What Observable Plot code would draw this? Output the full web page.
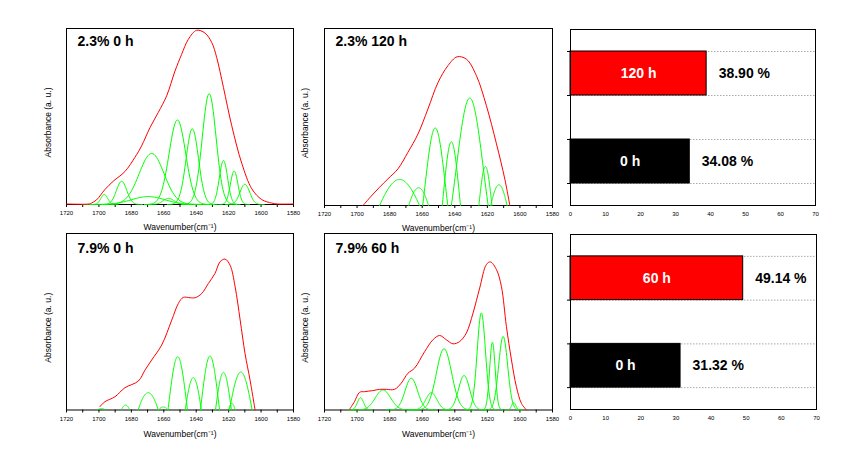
<!DOCTYPE html>
<html>
<head>
<meta charset="utf-8">
<script src="https://cdn.jsdelivr.net/npm/d3@7"></script>
<script src="https://cdn.jsdelivr.net/npm/@observablehq/plot@0.6"></script>
<style>
  html, body { margin: 0; padding: 0; background: #fff; }
  #wrap { position: relative; width: 866px; height: 454px; background: #fff; overflow: hidden;
          font-family: "Liberation Sans", Arial, sans-serif; }
  #wrap > svg { position: absolute; }
</style>
</head>
<body>
<div id="wrap"></div>
<script>
// ---------------- DATA ----------------
const xTickValues = [1720,1710,1700,1690,1680,1670,1660,1650,1640,1630,1620,1610,1600,1590,1580];
const barTickValues = [0,10,20,30,40,50,60,70];

const titles = ["2.3% 0 h", "2.3% 120 h", "7.9% 0 h", "7.9% 60 h"];

// red envelopes: [wavenumber, absorbance (% of panel height)]
const env23h0 = [[1720,0.3],[1706,0.3],[1704.6,0.8],[1701.5,2.6],[1696.3,8.5],[1691.2,13.2],[1684,18.7],[1677.8,26.8],
  [1673.7,33.3],[1668.5,43.7],[1663.4,52.3],[1658.2,61.8],[1653.1,75.8],[1649,85.3],[1644.9,93.8],[1639.7,99],
  [1634.6,97.4],[1630.4,92],[1627.4,83.6],[1623.2,66.5],[1618.1,44.8],[1611.9,23.4],[1605.7,8.9],[1599.6,2.8],
  [1593.4,0.8],[1590,0.3],[1580,0.3]];
const env23h120 = [[1696.4,0],[1691.3,5.3],[1686.2,10.3],[1681.1,15],[1674.9,20.7],[1668.8,30],[1662.6,40.4],
  [1656.5,54.5],[1650.3,69.5],[1644.2,79],[1638.6,84],[1632.9,82.7],[1626.7,73.3],[1620.6,56.4],[1614.4,34.8],
  [1609.3,15],[1606.2,0]];
const env79h0 = [[1699.4,1.9],[1696.3,4.7],[1690.1,7.5],[1684,12.6],[1675.7,16.4],[1671.6,22.6],[1667.5,28.3],
  [1661.3,36.8],[1655.1,50.9],[1651,60.4],[1648,63.8],[1643.8,63.6],[1640.7,63.6],[1636.6,66],[1632.5,71.7],
  [1628.4,77.4],[1625.3,84],[1622.2,85.5],[1619.1,82],[1616,69.8],[1612.9,51],[1609.9,32],[1606.8,17],[1603.7,0]];
const env79h60 = [[1704.6,0.4],[1701.6,4.7],[1698.5,10],[1695.4,10.4],[1690.3,11],[1686.2,11.7],[1682.1,11.7],
  [1677,11.7],[1672.9,15.2],[1668.8,20.8],[1664.7,23.7],[1658.5,33.1],[1653.4,39.8],[1649.3,42.2],[1645.2,39.8],
  [1641.1,37.5],[1637,38.8],[1632.9,43.6],[1628.8,54.9],[1624.7,69.1],[1620.6,82.4],[1618.1,83.9],[1614.4,79.5],
  [1611.4,70.1],[1608.3,47.3],[1605.2,28.4],[1602.2,13.3],[1599.1,3.8],[1596,0]];

// green fitted bands: [centre, visible height, width]
// full bands: width = FWHM ; clipped bands: width = half-width where the band meets the axis
const bands23h0 = [[1696.7,5.7,5],[1686,13.2,7.5],[1667.5,29,18],[1669.6,4.5,24],[1657,3.5,8],[1651.6,48,12],
  [1642.4,43,9],[1632,63,10],[1623.2,25,6],[1616.6,19,5.5],[1610,11.5,7]];
const bands23h120 = [[1673.9,14.7,12.3],[1662.2,10,6.1],[1652,43.8,7.7],[1642.1,36,5.6],[1630.8,60.7,11.3],
  [1621.2,22,4],[1612.9,11.7,5]];
const bands79h0 = [[1698.4,0.8,2.5],[1683.6,2.8,2.6],[1669.6,9.8,6.2],[1660.3,1.7,3],[1651.4,30.2,6],
  [1641.8,18.3,5],[1631.5,30.6,5.9],[1623.2,21.3,4.9],[1618,3.8,2],[1612.5,21.5,7]];
const bands79h60 = [[1697.9,7,4.5],[1684.1,11.4,11],[1666.7,18,9],[1654.4,9.8,8],[1646.6,34.7,11],
  [1634.3,19.5,8],[1623.7,55,6],[1616.9,38.4,4],[1610.3,41.7,6.5],[1603.8,4.2,3]];

// bar panels
const bars23Labels = ["0 h", "120 h"];
const bars23Values = [34.08, 38.90];
const bars79Labels = ["0 h", "60 h"];
const bars79Values = [31.32, 49.14];
const barColors = ["#000000", "#ff0000"];

// ---------------- DRAWING ----------------
const wrap = document.getElementById("wrap");
const FONT = "'Liberation Sans', Arial, sans-serif";

function bandPoints(band, base, k) {
  const [c, h, w] = band;
  const pts = [];
  if (base < 0) {
    const A = h - base;
    const s = w / Math.sqrt(2 * Math.log(A / (-base)));
    const n = 60;
    for (let j = 0; j <= n; j++) {
      const x = c - w + (2 * w * j) / n;
      const y = Math.max(0, A * Math.exp(-((x - c) ** 2) / (2 * s * s)) + base);
      pts.push({x, y, k});
    }
  } else {
    const s = w / 2.3548;
    const n = 80;
    for (let j = 0; j <= n; j++) {
      const x = c - 4 * s + (8 * s * j) / n;
      if (x > 1720 || x < 1580) continue;
      pts.push({x, y: h * Math.exp(-((x - c) ** 2) / (2 * s * s)), k});
    }
  }
  return pts;
}

function place(svg, g, ml, mt) {
  svg.style.left = (g.x - ml) + "px";
  svg.style.top = (g.y - mt) + "px";
  wrap.appendChild(svg);
}

function spectrum(g, title, env, bands, base) {
  const ml = 30, mr = 10, mt = 10, mb = 32;
  const curves = bands.flatMap((b, k) => bandPoints(b, base, k));
  const svg = Plot.plot({
    width: ml + g.w + mr, height: mt + g.h + mb,
    marginLeft: ml, marginRight: mr, marginTop: mt, marginBottom: mb,
    style: {background: "transparent", overflow: "visible", fontFamily: FONT, fontSize: "6px", color: "#000"},
    x: {domain: [1720, 1580], ticks: xTickValues, tickFormat: d => d % 20 === 0 ? String(d) : "",
        tickSize: 3, tickPadding: 3.5, label: null},
    y: {domain: [0, 100], axis: null},
    marks: [
      Plot.frame({stroke: "#000", strokeWidth: 1}),
      Plot.line(curves, {x: "x", y: "y", z: "k", stroke: "#00ff00", strokeWidth: 1}),
      Plot.line(env, {x: d => d[0], y: d => d[1], stroke: "#ff0000", strokeWidth: 1, curve: "catmull-rom"}),
      Plot.text([title], {frameAnchor: "top-left", dx: 11, dy: g.titleDy, textAnchor: "start", lineAnchor: "top",
        fontSize: 14, fontWeight: "bold", fill: "#000"}),
      Plot.text(["Wavenumber(cm⁻¹)"], {frameAnchor: "bottom", dy: g.labelDy, lineAnchor: "middle",
        textAnchor: "middle", fontSize: 8.5, fill: "#000"}),
      Plot.text(["Absorbance (a. u.)"], {frameAnchor: "left", dx: g.absDx, dy: 6, rotate: -90,
        textAnchor: "middle", lineAnchor: "middle", fontSize: 8.5, fill: "#000"})
    ]
  });
  place(svg, g, ml, mt);
}

function barPanel(g, labels, values) {
  const ml = 20, mr = 10, mt = 10, mb = 25;
  const rows = labels.map((l, i) => ({label: l, value: values[i], color: barColors[i], i}));
  const edges = rows.flatMap(d => [2 * d.i + 0.5, 2 * d.i + 1.5]);
  const svg = Plot.plot({
    width: ml + g.w + mr, height: mt + g.h + mb,
    marginLeft: ml, marginRight: mr, marginTop: mt, marginBottom: mb,
    style: {background: "transparent", overflow: "visible", fontFamily: FONT, fontSize: "6px", color: "#000"},
    x: {domain: [0, 70], ticks: barTickValues, tickSize: 0, tickPadding: 6, label: null},
    y: {domain: [0, 4], ticks: edges, tickSize: 3, tickFormat: () => "", label: null},
    marks: [
      Plot.ruleY(edges, {x1: 0, x2: 70, stroke: "#aaaaaa", strokeDasharray: "1.5,1.5", strokeWidth: 1}),
      Plot.rectX(rows, {x1: 0, x2: "value", y1: d => 2 * d.i + 0.5, y2: d => 2 * d.i + 1.5,
        fill: d => d.color, stroke: "#000", strokeWidth: 1}),
      Plot.text(rows, {x: d => d.value / 2, y: d => 2 * d.i + 1, text: "label", fill: "#fff",
        fontSize: 14, fontWeight: "bold"}),
      Plot.text(rows, {x: "value", y: d => 2 * d.i + 1, text: d => d.value.toFixed(2) + " %", dx: 12,
        textAnchor: "start", fill: "#000", fontSize: 14, fontWeight: "bold"}),
      Plot.frame({stroke: "#000", strokeWidth: 1})
    ]
  });
  place(svg, g, ml, mt);
}

spectrum({x: 65.5, y: 28, w: 227, h: 176, titleDy: 8, labelDy: 23, absDx: -18}, titles[0], env23h0, bands23h0, 0);
spectrum({x: 323.5, y: 28, w: 228, h: 177, titleDy: 8, labelDy: 23, absDx: -19}, titles[1], env23h120, bands23h120, -40);
barPanel({x: 569.5, y: 29, w: 245, h: 176}, bars23Labels, bars23Values);
spectrum({x: 65.5, y: 232.5, w: 227, h: 176.5, titleDy: 10, labelDy: 24, absDx: -18}, titles[2], env79h0, bands79h0, -40);
spectrum({x: 323.5, y: 232.5, w: 228, h: 176.5, titleDy: 10, labelDy: 24, absDx: -19}, titles[3], env79h60, bands79h60, 0);
barPanel({x: 569.5, y: 234, w: 246, h: 175}, bars79Labels, bars79Values);
</script>
</body>
</html>
